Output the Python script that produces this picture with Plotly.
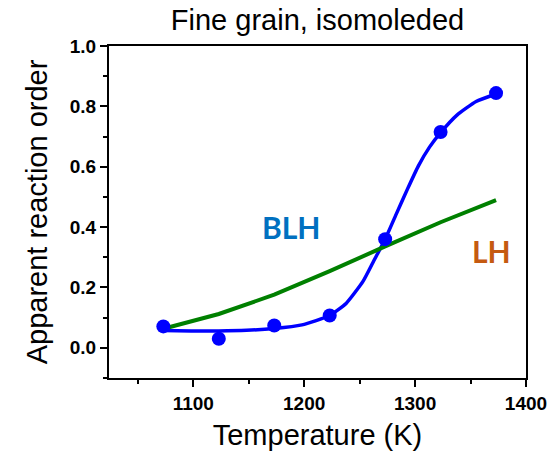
import plotly.graph_objects as go

# Measured points (BLH)
temp_pts = [1073, 1123, 1173, 1223, 1273, 1323, 1373]
order_pts = [0.071, 0.030, 0.074, 0.107, 0.360, 0.715, 0.844]

# BLH fitted curve
fit_T = [1073, 1098, 1123, 1148, 1173, 1198, 1223, 1238, 1253, 1263, 1273,
         1283, 1293, 1303, 1313, 1323, 1338, 1355, 1373]
fit_v = [0.057, 0.056, 0.056, 0.058, 0.064, 0.076, 0.107, 0.148, 0.220, 0.290, 0.360,
         0.443, 0.525, 0.603, 0.665, 0.713, 0.772, 0.816, 0.841]

# LH model line
lh_T = [1073, 1123, 1173, 1223, 1273, 1323, 1373]
lh_v = [0.063, 0.112, 0.176, 0.254, 0.336, 0.416, 0.489]

x_ticks = [1100, 1200, 1300, 1400]
y_ticks = [0.0, 0.2, 0.4, 0.6, 0.8, 1.0]

AX_FONT = "Liberation Sans"

fig = go.Figure()
fig.add_trace(go.Scatter(x=fit_T, y=fit_v, mode="lines",
                         line=dict(color="#0000FF", width=3.5, shape="spline", smoothing=0.5),
                         showlegend=False, hoverinfo="skip"))
fig.add_trace(go.Scatter(x=lh_T, y=lh_v, mode="lines",
                         line=dict(color="#008000", width=4),
                         showlegend=False))
fig.add_trace(go.Scatter(x=temp_pts, y=order_pts, mode="markers",
                         marker=dict(color="#0000FF", size=14),
                         showlegend=False))

fig.add_annotation(x=1188, y=0.399, text="<b>BLH</b>", showarrow=False,
                   font=dict(family="Lato", size=30, color="#0070C0"))
fig.add_annotation(x=1368.5, y=0.321, text="<b>LH</b>", showarrow=False,
                   font=dict(family="Lato", size=30, color="#C55A11"))

fig.update_layout(
    width=559, height=458,
    margin=dict(l=109, r=30, t=46, b=76),
    paper_bgcolor="white", plot_bgcolor="white",
    font=dict(family=AX_FONT, color="black"),
    title=dict(text="Fine grain, isomoleded", x=0.5, xref="paper", xanchor="center",
               y=1 - 20 / 458, yref="container", yanchor="middle",
               font=dict(family=AX_FONT, size=29, color="black")),
    xaxis=dict(range=[1024, 1400], tickvals=x_ticks, ticktext=[f"<b>{v}</b>" for v in x_ticks],
               ticks="outside", ticklen=7, tickwidth=2, tickcolor="black",
               minor=dict(dtick=50, tick0=1000, ticks="outside", ticklen=4, tickwidth=2, tickcolor="black"),
               showline=True, linewidth=2, linecolor="black", mirror=True,
               showgrid=False, zeroline=False,
               tickfont=dict(family=AX_FONT, size=19, color="black"),
               title=dict(text="Temperature (K)", standoff=12,
                          font=dict(family=AX_FONT, size=29, color="black"))),
    yaxis=dict(range=[-0.1, 1.0], tickvals=y_ticks, ticktext=[f"<b>{v:.1f}</b>" for v in y_ticks],
               ticks="outside", ticklen=7, tickwidth=2, tickcolor="black",
               minor=dict(dtick=0.1, tick0=0, ticks="outside", ticklen=4, tickwidth=2, tickcolor="black"),
               showline=True, linewidth=2, linecolor="black", mirror=True,
               showgrid=False, zeroline=False,
               tickfont=dict(family=AX_FONT, size=19, color="black"),
               title=dict(text="Apparent reaction order", standoff=14,
                          font=dict(family=AX_FONT, size=29, color="black"))),
)

fig.write_html("out.html")
